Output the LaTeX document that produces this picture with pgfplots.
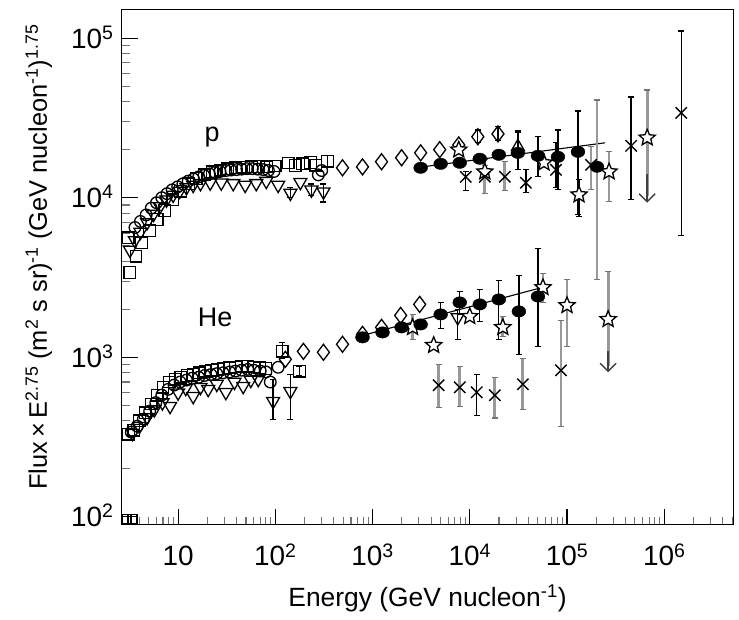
\documentclass[border=0pt]{standalone}
\usepackage{fontspec}
\setmainfont{Liberation Sans}
\usepackage{pgfplots}
\pgfplotsset{compat=1.18}
\usetikzlibrary{arrows.meta}

\pgfdeclareplotmark{ostar}{%
  \pgfpathmoveto{\pgfpointpolar{90}{\pgfplotmarksize}}%
  \pgfpathlineto{\pgfpointpolar{126}{0.45\pgfplotmarksize}}%
  \pgfpathlineto{\pgfpointpolar{162}{\pgfplotmarksize}}%
  \pgfpathlineto{\pgfpointpolar{198}{0.45\pgfplotmarksize}}%
  \pgfpathlineto{\pgfpointpolar{234}{\pgfplotmarksize}}%
  \pgfpathlineto{\pgfpointpolar{270}{0.45\pgfplotmarksize}}%
  \pgfpathlineto{\pgfpointpolar{306}{\pgfplotmarksize}}%
  \pgfpathlineto{\pgfpointpolar{342}{0.45\pgfplotmarksize}}%
  \pgfpathlineto{\pgfpointpolar{18}{\pgfplotmarksize}}%
  \pgfpathlineto{\pgfpointpolar{54}{0.45\pgfplotmarksize}}%
  \pgfpathclose
  \pgfusepathqfillstroke
}

\pgfplotsset{
  opencirc/.style={only marks, black, mark=o, mark size=5.8bp, mark options={line width=1.3bp}},
  opensq/.style={only marks, black, mark=square, mark size=5.8bp, mark options={line width=1.3bp}},
  opentri/.style={only marks, black, mark=triangle, mark size=7.5bp, mark options={line width=1.3bp, rotate=180}},
  uptri/.style={only marks, black, mark=triangle, mark size=7.5bp, mark options={line width=1.3bp, fill=white}},
  opendia/.style={only marks, black, mark=diamond, mark size=8bp, mark options={line width=1.3bp, fill=white}},
  filled/.style={only marks, black, mark=*, mark size=6.2bp, mark options={xscale=1.12, yscale=0.92}},
  cross/.style={only marks, black, mark=x, mark size=8bp, mark options={line width=1.4bp}},
  ostar/.style={only marks, black, mark=ostar, mark size=8.5bp, mark options={line width=1.3bp, fill=white}},
  berr/.style={/pgfplots/error bars/y dir=both, /pgfplots/error bars/y explicit,
    /pgfplots/error bars/error bar style={black, line width=1.3bp},
    /pgfplots/error bars/error mark options={black, line width=1.3bp, mark size=3bp, rotate=90}},
  gerr/.style={/pgfplots/error bars/y dir=both, /pgfplots/error bars/y explicit,
    /pgfplots/error bars/error bar style={black!40, line width=2.8bp},
    /pgfplots/error bars/error mark options={black!55, line width=1.3bp, mark size=3bp, rotate=90}},
  gerrup/.style={/pgfplots/error bars/y dir=plus, /pgfplots/error bars/y explicit,
    /pgfplots/error bars/error bar style={black!40, line width=2.8bp},
    /pgfplots/error bars/error mark options={black!55, line width=1.3bp, mark size=3bp, rotate=90}},
}

\begin{document}
\begin{tikzpicture}
\begin{axis}[
  name=ax, at={(0,0)}, anchor=south west,
  scale only axis, width=611bp, height=515bp,
  xmode=log, ymode=log,
  xmin=2.65, xmax=5.1e6, ymin=89, ymax=1.5e5,
  xtick={10,100,1000,10000,100000,1000000},
  xticklabels={10,10\textsuperscript{2},10\textsuperscript{3},10\textsuperscript{4},10\textsuperscript{5},10\textsuperscript{6}},
  ytick={100,1000,10000,100000},
  yticklabels={10\textsuperscript{2},10\textsuperscript{3},10\textsuperscript{4},10\textsuperscript{5}},
  minor xtick={3,4,5,6,7,8,9,20,30,40,50,60,70,80,90,200,300,400,500,600,700,800,900,2000,3000,4000,5000,6000,7000,8000,9000,20000,30000,40000,50000,60000,70000,80000,90000,200000,300000,400000,500000,600000,700000,800000,900000,2000000,3000000,4000000,5000000},
  minor ytick={200,300,400,500,600,700,800,900,2000,3000,4000,5000,6000,7000,8000,9000,20000,30000,40000,50000,60000,70000,80000,90000},
  tick align=inside, xtick pos=left, ytick pos=left,
  major tick length=16bp, minor tick length=8bp,
  major tick style={black, line width=1.1bp},
  minor tick style={black!55, line width=1.1bp},
  axis line style={black, line width=1bp},
  xticklabel style={font=\fontsize{28}{30}\selectfont, anchor=base, yshift=-41bp},
  yticklabel style={font=\fontsize{28}{30}\selectfont, anchor=base east, yshift=-10bp, xshift=-5bp},
  xlabel={Energy (GeV nucleon\textsuperscript{-1})},
  ylabel={Flux\,×\,E\textsuperscript{2.75} (m\textsuperscript{2} s sr)\textsuperscript{-1} (GeV nucleon\textsuperscript{-1})\textsuperscript{1.75}},
  xlabel style={font=\fontsize{26.5}{30}\selectfont, at={(axis description cs:0.5,-0.142)}, anchor=center},
  ylabel style={font=\fontsize{25.5}{30}\selectfont, at={(axis description cs:-0.136,0.52)}, anchor=center},
]

% ================= protons =================
\addplot[opencirc] coordinates {
(3.6,6500)(4.1,7100)(4.7,7800)(5.3,8600)(6.0,9300)(6.8,10000)(7.7,10600)(8.7,11200)(9.9,11700)(11.2,12200)(12.7,12700)(14.4,13100)(16.3,13500)(18.5,13800)(21,14100)(24,14400)(27,14600)(31,14800)(35,14900)(40,15000)(45,15100)(51,15200)(58,15200)(66,15100)(75,15000)(85,14800)(97,14600)(277,13900)(300,14800)};
\addplot[opensq] coordinates {
(3.07,5600)(3.18,3400)(3.69,4300)(4.2,5200)(5.1,6200)(6.1,7300)(7.3,8300)(8.8,9700)(10.6,11000)(12.8,12200)(15.4,13200)(18.6,13900)(22.4,14500)(27,14900)(32.5,15200)(39,15400)(47,15500)(57,15600)(68,15700)(82,15600)(100,15800)(136,16500)(160,15900)(190,16300)(230,16600)(260,16000)};
\addplot[opensq, berr] coordinates {(344,16900) += (0,1400) -= (0,1300)};
\addplot[opentri] coordinates {
(3.2,4700)(3.6,5400)(4.1,6100)(4.8,7000)(5.6,7900)(6.5,8800)(7.6,9700)(8.9,10400)(10.4,11000)(12.2,11600)(14.3,12000)(17,12300)(21.4,12400)(27.8,12400)(36.9,12300)(49,12000)(63.7,12300)(80.8,12700)(107,12000)(181,12500)};
\addplot[opentri, berr] coordinates {(143,10700) += (0,900) -= (0,700) (235,11200) += (0,1000) -= (0,900) (313,10900) += (0,1300) -= (0,1500)};
\addplot[opendia] coordinates {(491,15400)(789,15600)(1238,16800)(1991,17800)(3126,19100)(4909,20000)(7708,21400)};
\addplot[opendia, berr] coordinates {(12100,24100) += (0,2500) -= (0,2000) (19500,25100) += (0,2800) -= (0,2200)};
% fit line
\addplot[black, line width=1.1bp] coordinates {(2773,15400)(247000,22080)};
\addplot[uptri, berr] coordinates {(31260,20840) += (0,5000) -= (0,3000)};
% stars
\addplot[ostar] coordinates {(7708,19950)(57940,16550)};
\addplot[ostar, gerr] coordinates {(14290,14540) += (0,2740) -= (0,3950) (271000,14540) += (0,4890) -= (0,5100)};
\addplot[ostar, berr] coordinates {(133000,10440) += (0,2540) -= (0,2820)};
\addplot[black!40, line width=2.8bp] coordinates {(668000,23710)(668000,10200)};
\addplot[black!75, line width=1.4bp, -{Straight Barb[length=8bp,width=16bp]}] coordinates {(668000,14000)(668000,9300)};
\addplot[ostar, gerrup] coordinates {(668000,23710) += (0,23610) -= (0,0)};
% crosses
\addplot[cross, berr] coordinates {(9100,13520) += (0,1020) -= (0,2460) (37760,12400) += (0,2560) -= (0,1650) (77110,14960) += (0,7120) -= (0,3410) (457000,21130) += (0,21640) -= (0,11410) (1496000,33980) += (0,76620) -= (0,28190)};
\addplot[cross, gerr] coordinates {(14290,13520) += (0,2330) -= (0,2930) (22970,13520) += (0,3270) -= (0,2460) (176600,16070) += (0,4770) -= (0,4850)};
% filled circles
\addplot[filled] coordinates {(3126,15400)(5023,16300)(7888,16550)(12680,17540)(19900,18580)};
\addplot[filled, berr] coordinates {(31260,19100) += (0,7200) -= (0,4140) (50230,18300) += (0,5760) -= (0,4780) (80700,18030) += (0,8580) -= (0,6810) (129700,19390) += (0,15580) -= (0,11560)};
\addplot[filled, gerr] coordinates {(203700,15630) += (0,25340) -= (0,12560)};

% ================= helium =================
\addplot[opencirc] coordinates {
(3.3,340)(3.8,370)(4.4,410)(5.1,460)(5.9,520)(6.8,580)(7.9,630)(9.1,670)(10.5,700)(12.2,720)(14,740)(16.3,750)(18.8,770)(21.8,780)(25,790)(29,800)(34,810)(39,820)(45,830)(52,840)(60,830)(70,820)(80,810)(88.8,700)(107,866)};
\addplot[opensq] coordinates {
(3.1,330)(3.5,350)(4.0,400)(4.6,450)(5.3,510)(6.1,580)(7.0,650)(8.1,700)(9.3,730)(10.7,750)(12.4,770)(14.3,780)(16.5,800)(19,820)(22,830)(25.5,840)(29.5,850)(34,860)(39,870)(45,880)(52,880)(60,870)(69,860)(80,850)};
\addplot[opensq, mark size=4.5bp] coordinates {(2.95,97)(3.4,97)};
\addplot[opensq, berr] coordinates {(118,1090) += (0,150) -= (0,100) (177,818) += (0,60) -= (0,50)};
\addplot[opentri] coordinates {
(3.4,335)(4.0,370)(4.8,420)(5.7,470)(6.9,520)(8.27,494)(10,600)(12,640)(14.3,570)(17,650)(20.4,631)(25,680)(31,604)(38,700)(46.7,659)(56,720)(66.8,729)};
\addplot[opentri, berr] coordinates {(95,531) += (0,198) -= (0,122) (143,613) += (0,170) -= (0,204) (7516,1778) += (0,220) -= (0,480)};
\addplot[opendia] coordinates {(126.8,971)(194.5,1090)(312.6,1075)(491,1206)(789,1393)(1238,1540)(1946,1830)(3055,2145)};
% fit line
\addplot[black, line width=1.1bp] coordinates {(668,1334)(60810,2780)};
% stars
\addplot[ostar] coordinates {(4256,1189)(10000,1803)};
\addplot[ostar, gerr] coordinates {(2582,1540) += (0,317) -= (0,243) (21880,1540) += (0,263) -= (0,187) (56630,2738) += (0,608) -= (0,531) (100000,2113) += (0,960) -= (0,942)};
\addplot[black!40, line width=2.8bp] coordinates {(265000,1728)(265000,880)};
\addplot[black!75, line width=1.4bp, -{Straight Barb[length=8bp,width=16bp]}] coordinates {(265000,1100)(265000,806)};
\addplot[ostar, gerrup] coordinates {(265000,1728) += (0,1723) -= (0,0)};
% crosses
\addplot[cross, gerr] coordinates {(4786,668) += (0,236) -= (0,181) (7888,649) += (0,229) -= (0,155) (18110,579) += (0,171) -= (0,163) (35190,678) += (0,308) -= (0,205) (86700,829) += (0,874) -= (0,459)};
\addplot[cross, berr] coordinates {(11800,604) += (0,179) -= (0,170)};
% filled circles
\addplot[filled] coordinates {(789,1334)(1267,1432)(1991,1540)(3126,1607)};
\addplot[filled, berr] coordinates {(5023,1857) += (0,350) -= (0,339) (7888,2207) += (0,379) -= (0,350) (12680,2145) += (0,515) -= (0,466) (19900,2304) += (0,724) -= (0,1007) (32000,1939) += (0,1315) -= (0,895) (50230,2404) += (0,2392) -= (0,1233)};

\node[font=\fontsize{27}{30}\selectfont] at (axis cs:22.4,24060) {p};
\node[font=\fontsize{27}{30}\selectfont] at (axis cs:24,1778) {He};
\end{axis}
\pgfresetboundingbox
\path[use as bounding box] ([shift={(-122bp,-95bp)}]ax.south west) rectangle ([shift={(6bp,10bp)}]ax.north east);
\end{tikzpicture}
\end{document}
